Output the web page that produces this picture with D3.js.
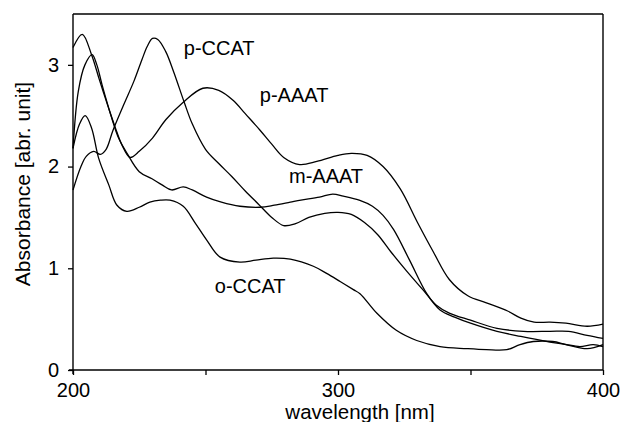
<!DOCTYPE html>
<html>
<head>
<meta charset="utf-8">
<script src="https://cdn.jsdelivr.net/npm/d3@7"></script>
<style>
  html, body { margin: 0; padding: 0; background: #fff; }
  svg { display: block; font-family: "Liberation Sans", Arial, Helvetica, sans-serif; }
</style>
</head>
<body>
<svg id="chart" width="621" height="422"></svg>
<script>
// ---- data ----
const xTicks = [200, 250, 300, 350, 400];
const xTickLabels = ["200", "", "300", "", "400"];
const yTicks = [0, 1, 2, 3];
const yTickLabels = ["0", "1", "2", "3"];

const pAAAT_wl  = [200, 203.5, 207, 210, 213.5, 216, 218.5, 221.5, 225, 230, 235, 241.5, 249, 255, 260.5, 265, 270.5, 275, 279.5, 285.5, 292, 300, 305, 311, 317, 323.5, 330, 336, 342, 349, 356, 364, 369, 374, 380, 386, 394, 400];
const pAAAT_abs = [3.17, 3.30, 3.10, 2.85, 2.57, 2.38, 2.21, 2.09, 2.15, 2.28, 2.46, 2.63, 2.77, 2.75, 2.65, 2.52, 2.36, 2.22, 2.09, 2.02, 2.05, 2.11, 2.13, 2.11, 2.00, 1.78, 1.45, 1.16, 0.89, 0.73, 0.66, 0.58, 0.51, 0.47, 0.47, 0.46, 0.43, 0.45];

const pCCAT_wl  = [200, 203, 205, 207.8, 210.3, 212.5, 215, 219, 223, 226, 228, 230, 232, 235, 238, 242, 245, 250, 255, 260, 265, 270, 275, 279.5, 284, 289, 295, 300, 305, 310, 315, 320, 326, 332, 337, 342, 350, 360, 370, 380, 387, 394, 400];
const pCCAT_abs = [1.77, 2.00, 2.10, 2.15, 2.12, 2.17, 2.35, 2.60, 2.84, 3.05, 3.18, 3.26, 3.25, 3.13, 2.93, 2.63, 2.42, 2.17, 2.03, 1.90, 1.76, 1.63, 1.50, 1.42, 1.44, 1.50, 1.54, 1.55, 1.53, 1.45, 1.33, 1.16, 0.97, 0.79, 0.64, 0.56, 0.49, 0.41, 0.38, 0.38, 0.38, 0.34, 0.31];

const mAAAT_wl  = [200, 202, 204.5, 207.2, 209, 211, 214.7, 217.2, 220.4, 225, 229.8, 233.6, 237.2, 241.6, 245, 250.4, 256, 263, 270.6, 276, 282, 286, 293, 298, 302, 308, 313, 317, 321, 327, 333.5, 338.5, 344, 350, 360, 369, 379, 386, 394, 400];
const mAAAT_abs = [2.18, 2.74, 3.00, 3.10, 3.00, 2.80, 2.47, 2.28, 2.13, 1.95, 1.88, 1.82, 1.77, 1.80, 1.77, 1.70, 1.65, 1.61, 1.60, 1.62, 1.65, 1.67, 1.70, 1.73, 1.71, 1.67, 1.61, 1.52, 1.38, 1.08, 0.75, 0.59, 0.52, 0.46, 0.38, 0.33, 0.28, 0.25, 0.21, 0.25];

const oCCAT_wl  = [200, 202.5, 204.6, 207, 209.7, 213.5, 216.6, 220.3, 225, 229, 233, 236.6, 241.6, 246, 250.4, 255.5, 263, 269, 275.6, 282, 290.7, 295.7, 300.8, 305.8, 308.3, 314.6, 322, 329.7, 338.5, 348.6, 356, 363.7, 368.7, 373.7, 381, 386.3, 391.3, 396.3, 400];
const oCCAT_abs = [2.18, 2.42, 2.50, 2.38, 2.08, 1.82, 1.62, 1.56, 1.60, 1.65, 1.67, 1.67, 1.61, 1.45, 1.28, 1.11, 1.06, 1.08, 1.10, 1.09, 1.02, 0.95, 0.87, 0.79, 0.75, 0.56, 0.39, 0.29, 0.23, 0.21, 0.20, 0.20, 0.25, 0.28, 0.28, 0.25, 0.23, 0.25, 0.23];

const seriesNames = ["p-AAAT", "p-CCAT", "m-AAAT", "o-CCAT"];
const labelText = ["p-CCAT", "p-AAAT", "m-AAAT", "o-CCAT"];
const labelWl   = [241.8, 270.5, 281.5, 253.5];   // label anchor wavelength
const labelAbs  = [3.10, 2.63, 1.84, 0.76];       // label baseline absorbance

// ---- layout ----
const W = 621, H = 422;
const m = { left: 73, right: 18, top: 14, bottom: 52 };
const svg = d3.select("#chart");

const x = d3.scaleLinear().domain([200, 400]).range([m.left, W - m.right]);
const y = d3.scaleLinear().domain([0, 3.5]).range([H - m.bottom, m.top]);

const series = [
  { name: seriesNames[0], wl: pAAAT_wl, a: pAAAT_abs },
  { name: seriesNames[1], wl: pCCAT_wl, a: pCCAT_abs },
  { name: seriesNames[2], wl: mAAAT_wl, a: mAAAT_abs },
  { name: seriesNames[3], wl: oCCAT_wl, a: oCCAT_abs }
];

// frame (top and right)
svg.append("line").attr("x1", x(200)).attr("x2", x(400)).attr("y1", y(3.5)).attr("y2", y(3.5))
  .attr("stroke", "#000").attr("stroke-width", 1.4);
svg.append("line").attr("x1", x(400)).attr("x2", x(400)).attr("y1", y(3.5)).attr("y2", y(0))
  .attr("stroke", "#000").attr("stroke-width", 1.4);

// axes
const xAxis = d3.axisBottom(x).tickValues(xTicks)
  .tickFormat((d, i) => xTickLabels[i]).tickSize(5).tickSizeOuter(0).tickPadding(8);
const yAxis = d3.axisLeft(y).tickValues(yTicks)
  .tickFormat((d, i) => yTickLabels[i]).tickSize(5).tickSizeOuter(0).tickPadding(9);

const gx = svg.append("g").attr("transform", `translate(0,${y(0)})`).call(xAxis);
const gy = svg.append("g").attr("transform", `translate(${x(200)},0)`).call(yAxis);
[gx, gy].forEach(g => {
  g.select(".domain").attr("stroke", "#000").attr("stroke-width", 1.4);
  g.selectAll(".tick line").attr("stroke", "#000").attr("stroke-width", 1.3);
  g.selectAll(".tick text").attr("fill", "#000").attr("font-size", 20)
    .attr("font-family", '"Liberation Sans", Arial, sans-serif');
});
// extend domains to meet corner
gx.select(".domain").attr("d", `M${x(200)-4},0H${x(400)}`);
gy.select(".domain").attr("d", `M0,${y(0)+4}V${y(3.5)}`);

// curves
const line = d3.line()
  .x(d => x(d[0])).y(d => y(d[1]))
  .curve(d3.curveCatmullRom.alpha(0.5));

svg.append("g").selectAll("path").data(series).join("path")
  .attr("d", s => line(s.wl.map((w, i) => [w, s.a[i]])))
  .attr("fill", "none").attr("stroke", "#000").attr("stroke-width", 1.3)
  .attr("stroke-linejoin", "round");

// curve labels
svg.append("g").selectAll("text").data(labelText).join("text")
  .attr("x", (d, i) => x(labelWl[i])).attr("y", (d, i) => y(labelAbs[i]))
  .attr("font-size", 20).attr("fill", "#000")
  .text(d => d);

// axis titles
svg.append("text").attr("x", 360).attr("y", 419).attr("text-anchor", "middle")
  .attr("font-size", 20.5).attr("fill", "#000").text("wavelength [nm]");
svg.append("text").attr("transform", "translate(30,184) rotate(-90)")
  .attr("text-anchor", "middle").attr("font-size", 21).attr("fill", "#000")
  .text("Absorbance [abr. unit]");
</script>
</body>
</html>
